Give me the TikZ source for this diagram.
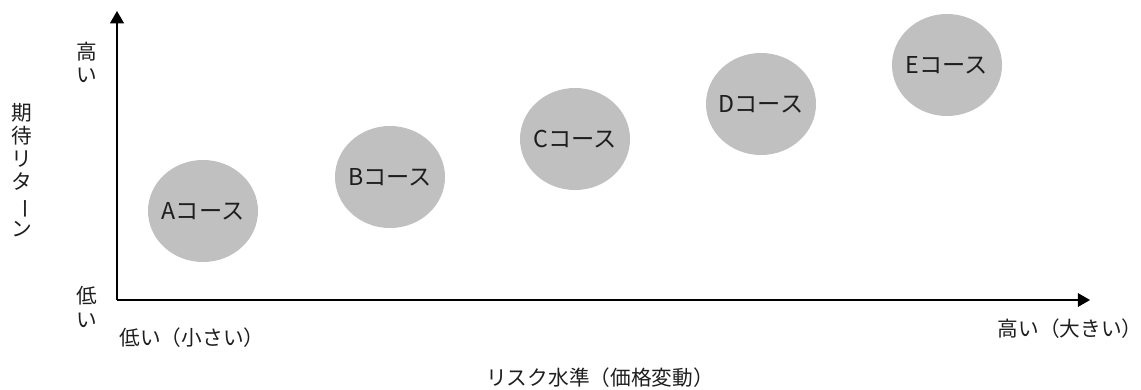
\documentclass[tikz,border=0pt]{standalone}
\usepackage{fontspec}
\usepackage{graphicx}
\setmainfont{Noto Sans CJK JP}
\usepackage{tikz}
\usetikzlibrary{arrows,shapes.geometric}

\definecolor{coursegray}{RGB}{192,192,192}
\definecolor{inkgray}{RGB}{30,30,30}
\newcommand{\vbar}{\rotatebox[origin=c]{-90}{ー}}

\begin{document}
\begin{tikzpicture}[x=0.025cm, y=-0.025cm,
    course/.style={ellipse, fill=coursegray, text=inkgray, minimum width=2.75cm,
      minimum height=2.55cm, inner xsep=-0.1cm, inner ysep=0pt,
      font=\fontsize{16.5}{19}\selectfont},
    lbl/.style={text=inkgray, inner sep=0pt, font=\fontsize{14.7}{17}\selectfont},
    vlbl/.style={lbl, align=center, font=\fontsize{14.7}{16.5}\selectfont}]
      \useasboundingbox (0, 0) rectangle (1141, 389);
      \coordinate (O) at (117, 300);
      \coordinate (ytip) at (117, 11);
      \coordinate (xtip) at (1090, 300);
      \draw[line width=1.4pt, -triangle 60] (O) -- (ytip);
      \draw[line width=1.4pt, -triangle 60] (O) -- (xtip);
      \node[course] (A) at (203, 211) {Aコース};
      \node[course] (B) at (390, 177) {Bコース};
      \node[course] (C) at (575, 139) {Cコース};
      \node[course] (D) at (761, 104) {Dコース};
      \node[course] (E) at (947, 65) {Eコース};
      \node[vlbl] (yhigh) at (87, 62) {高\\い};
      \node[vlbl] (ylow) at (87, 307) {低\\い};
      \node[vlbl] (ytitle) at (22, 170) {期\\待\\リ\\タ\\\vbar\\ン};
      \node[lbl] (xlow) at (192, 338) {低い（小さい）};
      \node[lbl] (xhigh) at (1070, 329) {高い（大きい）};
      \node[lbl] (xtitle) at (600, 378) {リスク水準（価格変動）};
    \end{tikzpicture}
\end{document}
